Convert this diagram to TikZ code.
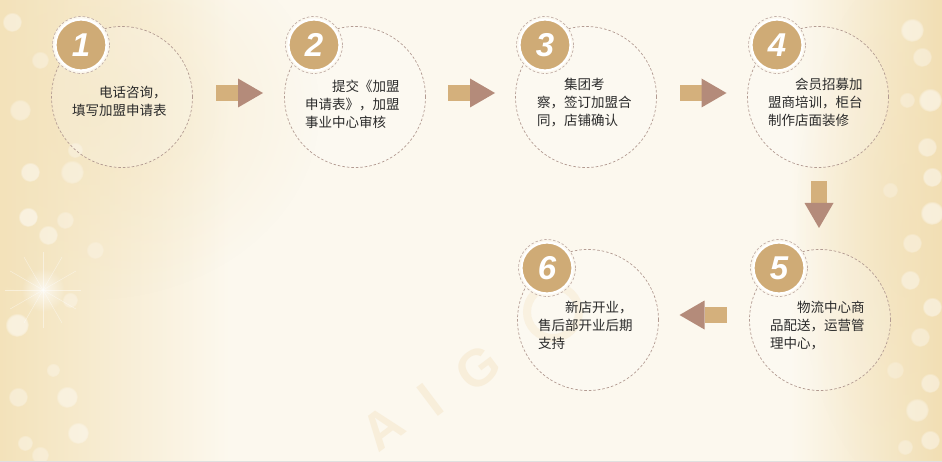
\documentclass[tikz,border=0pt]{standalone}
\usepackage{fontspec}
\newfontfamily\cjk{Noto Sans CJK SC}
\newfontfamily\numfont{Liberation Sans}
\usetikzlibrary{calc,fadings}
\definecolor{bgc}{HTML}{FCF8EE}
\definecolor{goldL}{HTML}{F3E2BA}
\definecolor{goldR}{HTML}{F2DFB4}
\definecolor{badgec}{HTML}{CFAB76}
\definecolor{bodyc}{HTML}{D4B07C}
\definecolor{headc}{HTML}{B48B7A}
\definecolor{dashc}{HTML}{B39B92}
\definecolor{textc}{HTML}{2A2A2A}
\definecolor{wmark}{HTML}{F8EEDA}
\tikzfading[name=softglow, inner color=transparent!0, outer color=transparent!100]
\tikzset{
  stepcircle/.style={circle, draw=dashc, line width=0.7pt, dash pattern=on 2.5pt off 2pt,
    minimum size=141pt, inner sep=0pt, fill=white, fill opacity=0.18},
  badge/.style={circle, fill=badgec, draw=white, line width=2.2pt, minimum size=51pt,
    inner sep=0pt, text=white, font=\numfont\bfseries\itshape\fontsize{33}{33}\selectfont},
  badgering/.style={draw=dashc!80, line width=0.7pt, dash pattern=on 2.5pt off 2pt},
  desc/.style={anchor=north west, inner sep=0pt, align=left, text=textc,
    font=\cjk\fontsize{13.5}{18}\selectfont},
  bokeh/.style={fill=white, path fading=circle with fuzzy edge 20 percent},
  wmletter/.style={rotate=37, text=wmark, inner sep=0pt,
    font=\numfont\bfseries\fontsize{52}{52}\selectfont},
}
\newcommand{\blockarrow}[2]{%
  \begin{scope}[shift={(#1)}, rotate=#2]
    \fill[bodyc] (-23.5,-8) rectangle (-1.5,8);
    \fill[headc] (-1.5,-14.5) -- (23.5,0) -- (-1.5,14.5) -- cycle;
  \end{scope}}
\begin{document}
\begin{tikzpicture}[x=1pt,y=-1pt]
\useasboundingbox (0,0) rectangle (942,462);
% background
\fill[bgc] (0,0) rectangle (942,462);
\shade[left color=goldL, right color=bgc] (0,0) rectangle (230,462);
\shade[left color=bgc, right color=goldR] (790,0) rectangle (942,462);
\fill[goldL, fill opacity=0.55, path fading=softglow] (90,110) ellipse (230pt and 190pt);
\fill[goldR, fill opacity=0.45, path fading=softglow] (905,230) ellipse (110pt and 260pt);
% bokeh left
\foreach \x/\y/\r/\o in {30/172/10/0.45, 72/172/12/0.35, 28/217/10/0.5, 48/235/10/0.4, 65/220/9/0.3,
  17/325/12/0.5, 67/397/11/0.4, 18/397/10/0.35, 78/433/11/0.4, 25/443/8/0.35, 53/370/7/0.3,
  12/22/10/0.4, 40/60/9/0.3, 20/110/11/0.35, 75/150/8/0.3, 70/300/8/0.3, 95/250/9/0.25, 40/455/9/0.3}
  \fill[bokeh, fill opacity=\o] (\x,\y) circle (\r pt);
% bokeh right
\foreach \x/\y/\r/\o in {912/30/12/0.45, 922/57/10/0.35, 930/100/12/0.5, 907/100/8/0.3, 927/147/10/0.4,
  932/177/10/0.45, 932/213/12/0.5, 912/243/10/0.35, 910/280/10/0.4, 932/307/10/0.45, 920/337/10/0.35,
  930/383/10/0.4, 917/410/12/0.4, 930/440/10/0.4, 905/447/8/0.3, 890/190/8/0.25, 895/370/9/0.25}
  \fill[bokeh, fill opacity=\o] (\x,\y) circle (\r pt);
% sparkle
\fill[white, fill opacity=0.75, path fading=softglow] (43,290) circle (22pt);
\foreach \a in {0,30,60,90,120,150}
  \draw[white, line width=0.5pt, opacity=0.45] ($(43,290)+(\a:38pt)$) -- ($(43,290)+(\a+180:38pt)$);
% watermark
\node[wmletter] (wmA) at (383,428) {A};
\node[wmletter] (wmI) at (430,400) {I};
\node[wmletter] (wmG) at (478,368) {G};
\draw[wmark, line width=8pt] (553,312) circle (26pt);

% step circles
\node[stepcircle] (c1) at (122,97) {};
\node[stepcircle] (c2) at (355,97) {};
\node[stepcircle] (c3) at (586,97) {};
\node[stepcircle] (c4) at (818,97) {};
\node[stepcircle] (c5) at (820,320) {};
\node[stepcircle] (c6) at (588,320) {};

% badges
\foreach \i in {1,...,6} {
  \fill[bgc] ($(c\i)+(-41,-52)$) circle (28.5pt);
  \draw[badgering] ($(c\i)+(-41,-52)$) circle (28.5pt);
  \node[badge] (b\i) at ($(c\i)+(-41,-52)$) {\i};
}

% descriptions
\node[desc] (t1) at ($(c1)+(-50,-11)$) {\hspace*{2em}电话咨询，\\填写加盟申请表};
\node[desc] (t2) at ($(c2)+(-50,-17)$) {\hspace*{2em}提交《加盟\\申请表》，加盟\\事业中心审核};
\node[desc] (t3) at ($(c3)+(-49,-19)$) {\hspace*{2em}集团考\\察，签订加盟合\\同，店铺确认};
\node[desc] (t4) at ($(c4)+(-50,-19)$) {\hspace*{2em}会员招募加\\盟商培训，柜台\\制作店面装修};
\node[desc] (t5) at ($(c5)+(-50,-19)$) {\hspace*{2em}物流中心商\\品配送，运营管\\理中心，};
\node[desc] (t6) at ($(c6)+(-50,-19)$) {\hspace*{2em}新店开业，\\售后部开业后期\\支持};

% arrows
\blockarrow{$($(c1.east)!0.5!(c2.west)$)+(1,-4)$}{0}
\blockarrow{$($(c2.east)!0.5!(c3.west)$)+(1,-4)$}{0}
\blockarrow{$($(c3.east)!0.5!(c4.west)$)+(1,-4)$}{0}
\blockarrow{$($(c4.south)!0.5!(c5.north)$)+(0,-4)$}{-90}
\blockarrow{$($(c5.west)!0.5!(c6.east)$)+(-1,-5)$}{180}

\draw[black!12, line width=1pt] (0,461.5) -- (942,461.5);
\end{tikzpicture}
\end{document}
